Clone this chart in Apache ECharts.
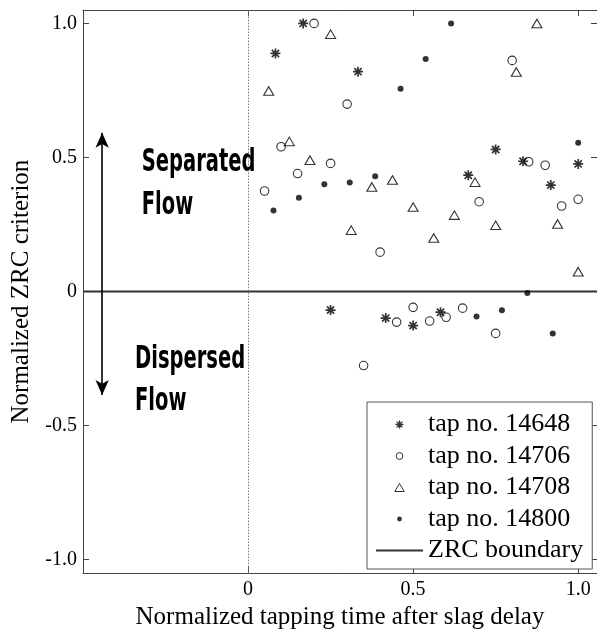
<!DOCTYPE html>
<html><head><meta charset="utf-8">
<script src="https://cdn.jsdelivr.net/npm/echarts@6/dist/echarts.min.js"></script>
<style>html,body{margin:0;padding:0;background:#fff}#c{width:597px;height:635px}</style>
</head><body><div id="c"></div>
<script>
// ---- tick labels ----
const xTickValues = [0, 0.5, 1.0];
const xTickLabels = ['0', '0.5', '1.0'];
const yTickValues = [-1.0, -0.5, 0, 0.5, 1.0];
const yTickLabels = ['-1.0', '-0.5', '0', '0.5', '1.0'];

// ---- series names ----
const seriesNames = ['tap no. 14648', 'tap no. 14706', 'tap no. 14708', 'tap no. 14800', 'ZRC boundary'];

// ---- data ----
const tap14648X = [0.083, 0.167, 0.25, 0.333, 0.417, 0.5, 0.583, 0.667, 0.75, 0.833, 0.917, 1.0];
const tap14648Y = [0.888, 1.0, -0.069, 0.82, -0.099, -0.127, -0.077, 0.434, 0.53, 0.486, 0.397, 0.476];

const tap14706X = [0.05, 0.10, 0.15, 0.20, 0.25, 0.30, 0.35, 0.40, 0.45, 0.50, 0.55, 0.60, 0.65, 0.70, 0.75, 0.80, 0.85, 0.90, 0.95, 1.0];
const tap14706Y = [0.375, 0.54, 0.44, 1.0, 0.478, 0.699, -0.276, 0.147, -0.114, -0.059, -0.11, -0.096, -0.062, 0.335, -0.156, 0.862, 0.484, 0.471, 0.319, 0.344];

const tap14708X = [0.0625, 0.125, 0.1875, 0.25, 0.3125, 0.375, 0.4375, 0.5, 0.5625, 0.625, 0.6875, 0.75, 0.8125, 0.875, 0.9375, 1.0];
const tap14708Y = [0.748, 0.56, 0.49, 0.96, 0.229, 0.39, 0.416, 0.315, 0.2, 0.285, 0.408, 0.247, 0.819, 1.0, 0.252, 0.074];

const tap14800X = [0.077, 0.154, 0.231, 0.308, 0.385, 0.462, 0.538, 0.615, 0.692, 0.769, 0.846, 0.923, 1.0];
const tap14800Y = [0.302, 0.35, 0.40, 0.407, 0.43, 0.756, 0.867, 1.0, -0.093, -0.07, -0.005, -0.156, 0.555];

const zrcX = [-0.5, 1.057];
const zrcY = [0, 0];

// annotation arrow (data coords, arrow tips)
const arrowX = -0.442;
const arrowTopY = 0.592;
const arrowBottomY = -0.386;

const pairs = (xs, ys) => xs.map((x, i) => [x, ys[i]]);

const serif = '"Liberation Serif", "Times New Roman", serif';
const starPath = 'path://M0,-1L0,1M-1,0L1,0M-0.72,-0.72L0.72,0.72M-0.72,0.72L0.72,-0.72';
const triPath = 'path://M0,-0.85L1,0.85L-1,0.85Z';
const circLegendPath = 'path://M-1,-1M1,1M-0.85,0A0.85,0.85 0 1 1 0.85,0A0.85,0.85 0 1 1 -0.85,0Z';
const dotLegendPath = 'path://M-1,-1M1,1M-0.6,0A0.6,0.6 0 1 1 0.6,0A0.6,0.6 0 1 1 -0.6,0Z';
const lineLegendPath = 'path://M0,0L47,0L47,2L0,2Z';

const chart = echarts.init(document.getElementById('c'), null, {renderer: 'canvas'});

const axisLineStyle = {color: '#444', width: 1};

const option = {
  animation: false,
  backgroundColor: '#fff',
  grid: {left: 83, top: 10, width: 517, height: 566, containLabel: false},
  xAxis: [{
    type: 'value', min: -0.5, max: 1.057, position: 'bottom',
    axisLine: {show: true, onZero: false, lineStyle: axisLineStyle},
    axisTick: {show: true, inside: true, length: 6, lineStyle: axisLineStyle, customValues: xTickValues},
    axisLabel: {show: true, customValues: xTickValues, margin: 7, color: '#000', fontFamily: serif, fontSize: 20,
      formatter: v => { const i = xTickValues.findIndex(t => Math.abs(t - v) < 1e-9); return i >= 0 ? xTickLabels[i] : ''; }},
    splitLine: {show: false},
    name: 'Normalized tapping time after slag delay', nameLocation: 'middle', nameGap: 30,
    nameTextStyle: {color: '#000', fontFamily: serif, fontSize: 25}
  }, {
    type: 'value', min: -0.5, max: 1.057, position: 'top',
    axisLine: {show: true, onZero: false, lineStyle: axisLineStyle},
    axisTick: {show: true, inside: true, length: 6, lineStyle: axisLineStyle, customValues: xTickValues},
    axisLabel: {show: false}, splitLine: {show: false}
  }],
  yAxis: [{
    type: 'value', min: -1.05, max: 1.05, position: 'left',
    axisLine: {show: true, onZero: false, lineStyle: axisLineStyle},
    axisTick: {show: true, inside: true, length: 6, lineStyle: axisLineStyle, customValues: yTickValues},
    axisLabel: {show: true, customValues: yTickValues, margin: 6, color: '#000', fontFamily: serif, fontSize: 20,
      formatter: v => { const i = yTickValues.findIndex(t => Math.abs(t - v) < 1e-9); return i >= 0 ? yTickLabels[i] : ''; }},
    splitLine: {show: false},
    name: 'Normalized ZRC criterion', nameLocation: 'middle', nameGap: 49,
    nameTextStyle: {color: '#000', fontFamily: serif, fontSize: 25}
  }, {
    type: 'value', min: -1.05, max: 1.05, position: 'right',
    axisLine: {show: true, onZero: false, lineStyle: axisLineStyle},
    axisTick: {show: true, inside: true, length: 6, lineStyle: axisLineStyle, customValues: yTickValues},
    axisLabel: {show: false}, splitLine: {show: false}
  }],
  legend: {
    orient: 'vertical', left: 367, top: 402,
    padding: [7, 9, 3, 9], itemGap: 0.5, itemWidth: 47, itemHeight: 8,
    backgroundColor: '#fff', borderColor: '#555', borderWidth: 1,
    textStyle: {color: '#000', fontFamily: serif, fontSize: 26, lineHeight: 31},
    symbolKeepAspect: true,
    data: [
      {name: seriesNames[0], icon: starPath, itemStyle: {color: 'rgba(0,0,0,0)', borderColor: '#000', borderWidth: 1.4}},
      {name: seriesNames[1], icon: circLegendPath, itemStyle: {color: 'rgba(0,0,0,0)', borderColor: '#000', borderWidth: 1}},
      {name: seriesNames[2], icon: triPath, itemStyle: {color: 'rgba(0,0,0,0)', borderColor: '#000', borderWidth: 1}},
      {name: seriesNames[3], icon: dotLegendPath, itemStyle: {color: '#000', borderWidth: 0}},
      {name: seriesNames[4], icon: lineLegendPath, itemStyle: {color: '#333', borderWidth: 0}}
    ],
    selectedMode: false
  },
  graphic: [
    {type: 'text', x: 141.7, y: 163, scaleX: 0.61, z: 10,
      style: {text: 'Separated', fontFamily: '"DejaVu Sans"', fontWeight: 'bold', fontSize: 32, fill: '#000', verticalAlign: 'middle', align: 'left'}},
    {type: 'text', x: 141.7, y: 205.3, scaleX: 0.61, z: 10,
      style: {text: 'Flow', fontFamily: '"DejaVu Sans"', fontWeight: 'bold', fontSize: 32, fill: '#000', verticalAlign: 'middle', align: 'left'}},
    {type: 'text', x: 135, y: 359.2, scaleX: 0.61, z: 10,
      style: {text: 'Dispersed', fontFamily: '"DejaVu Sans"', fontWeight: 'bold', fontSize: 32, fill: '#000', verticalAlign: 'middle', align: 'left'}},
    {type: 'text', x: 135, y: 401.7, scaleX: 0.61, z: 10,
      style: {text: 'Flow', fontFamily: '"DejaVu Sans"', fontWeight: 'bold', fontSize: 32, fill: '#000', verticalAlign: 'middle', align: 'left'}}
  ],
  series: [
    {
      name: seriesNames[0], type: 'scatter', symbol: starPath, symbolSize: 10,
      itemStyle: {color: 'rgba(0,0,0,0)', borderColor: '#000', borderWidth: 1.7},
      emphasis: {disabled: true}, data: pairs(tap14648X, tap14648Y), z: 5
    },
    {
      name: seriesNames[1], type: 'scatter', symbol: 'circle', symbolSize: 8.5,
      itemStyle: {color: 'rgba(0,0,0,0)', borderColor: '#000', borderWidth: 1.1},
      emphasis: {disabled: true}, data: pairs(tap14706X, tap14706Y), z: 5
    },
    {
      name: seriesNames[2], type: 'scatter', symbol: 'triangle', symbolSize: [10, 8.5],
      itemStyle: {color: 'rgba(0,0,0,0)', borderColor: '#000', borderWidth: 1.1},
      emphasis: {disabled: true}, data: pairs(tap14708X, tap14708Y), z: 5
    },
    {
      name: seriesNames[3], type: 'scatter', symbol: 'circle', symbolSize: 6,
      itemStyle: {color: '#000', borderWidth: 0},
      emphasis: {disabled: true}, data: pairs(tap14800X, tap14800Y), z: 5
    },
    {
      name: seriesNames[4], type: 'line', symbol: 'none', showSymbol: false,
      lineStyle: {color: '#333', width: 2},
      itemStyle: {color: '#333'},
      emphasis: {disabled: true}, data: pairs(zrcX, zrcY), z: 4,
      markLine: {
        silent: true, animation: false, symbol: 'none',
        label: {show: false},
        emphasis: {disabled: true},
        data: [
          [{coord: [0, -1.05], symbol: 'none', lineStyle: {type: [1.5, 1.5], color: '#777', width: 1}},
           {coord: [0, 1.05], symbol: 'none'}],
          [{coord: [arrowX, arrowTopY], symbol: 'arrow', symbolSize: [10, 15], lineStyle: {type: 'solid', color: '#000', width: 1.6}, itemStyle: {color: '#000'}},
           {coord: [arrowX, arrowBottomY], symbol: 'arrow', symbolSize: [10, 15]}]
        ]
      }
    }
  ]
};
chart.setOption(option);
</script>
</body></html>
